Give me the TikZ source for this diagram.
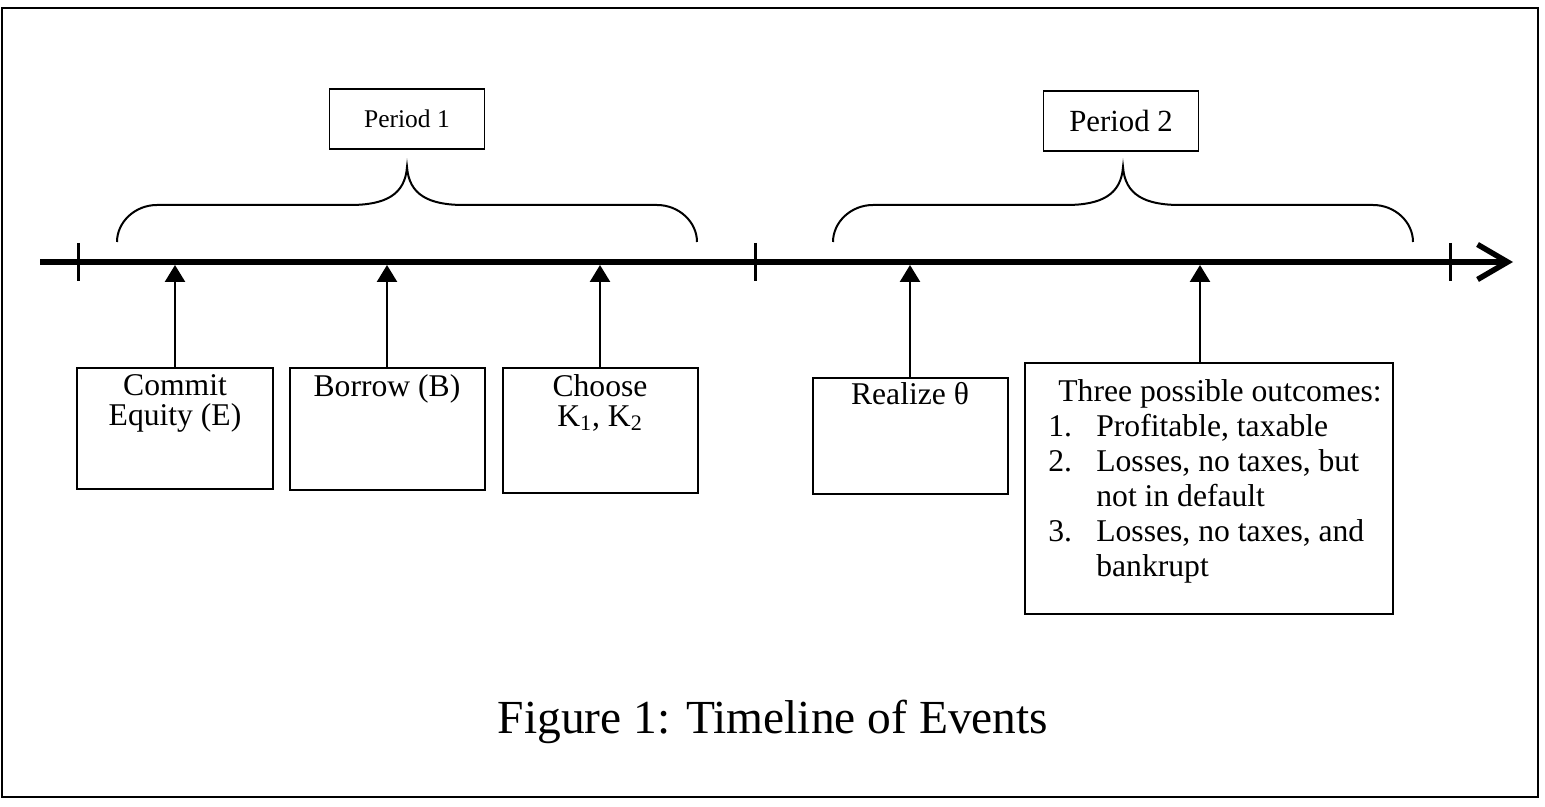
\documentclass[tikz,border=0pt]{standalone}
\usepackage{fontspec}
\setmainfont{Liberation Serif}
\usetikzlibrary{arrows.meta,calc}

\tikzset{
  eventbox/.style={draw, line width=0.4mm, minimum width=39mm, inner sep=0pt, anchor=north},
  eventtext/.style={anchor=north, align=center, inner sep=0pt, font=\fontsize{18}{17}\selectfont},
  periodbox/.style={draw, line width=0.3mm, minimum width=31mm, minimum height=12mm, inner sep=0pt},
  uparrow/.style={line width=0.5mm, -{Triangle[length=3.4mm,width=4mm]}},
  bracepath/.style={line width=0.4mm},
  ticmark/.style={line width=0.6mm},
}

\begin{document}
\begin{tikzpicture}[x=0.2mm, y=-0.2mm]
  % Outer frame
  \useasboundingbox (0,0) rectangle (1545,807);
  \draw[line width=0.4mm] (2,8) rectangle (1538,797);

  % Time axis
  \def\ty{262}
  \coordinate (axisL) at (40,\ty);
  \coordinate (axisR) at (1513,\ty);
  \coordinate (axisB) at (0,\ty+3); % lower edge of the axis
  \draw[line width=1.1mm, -{Straight Barb[length=6mm,width=7mm]}] (axisL) -- (axisR);

  % Period marks
  \foreach \x in {78,755,1450}
    \draw[ticmark] (\x,243) -- (\x,281);

  % ---- Period 1 ----
  \begin{scope}[shift={(117,0)}]
    \draw[bracepath] (0,242) .. controls (0,222) and (18,205) .. (40,205)
      -- (233,205) .. controls (268,205) and (288,195) .. (290,167)
      .. controls (292,195) and (312,205) .. (347,205)
      -- (540,205) .. controls (562,205) and (580,222) .. (580,242);
    \node[periodbox, font=\fontsize{14.5}{16}\selectfont] (per1) at (290,119) {Period 1};
  \end{scope}

  % ---- Period 2 ----
  \begin{scope}[shift={(833,0)}]
    \draw[bracepath] (0,242) .. controls (0,222) and (18,205) .. (40,205)
      -- (233,205) .. controls (268,205) and (288,195) .. (290,167)
      .. controls (292,195) and (312,205) .. (347,205)
      -- (540,205) .. controls (562,205) and (580,222) .. (580,242);
    \node[periodbox, font=\fontsize{17.5}{18}\selectfont] (per2) at (288,121) {Period 2};
  \end{scope}

  % Events
  \node[eventbox, minimum height=24.2mm] (commit) at (175,367) {};
  \node[eventtext] (committxt) at (175,374) {Commit\\Equity (E)};
  \node[eventbox, minimum height=24.4mm] (borrow) at (387,367) {};
  \node[eventtext] (borrowtxt) at (387,374) {Borrow (B)};
  \node[eventbox, minimum height=25mm] (choose) at (600,367) {};
  \node[eventtext] (choosetxt) at (600,374) {Choose\\K\textsubscript{1}, K\textsubscript{2}};
  \node[eventbox, minimum height=23.2mm] (realize) at (910,377) {};
  \node[eventtext] (realizetxt) at (910,382) {Realize θ};
  \node[eventbox, minimum width=73.6mm, minimum height=50.2mm] (outcomes) at (1209,362) {};
  \node[eventtext, anchor=north west, align=left, font=\fontsize{18}{19.9}\selectfont]
    (outcomestxt) at (1048,379) {\hspace*{2mm}Three possible outcomes:\\
    \makebox[9.6mm][l]{1.}Profitable, taxable\\
    \makebox[9.6mm][l]{2.}Losses, no taxes, but\\
    \hspace*{9.6mm}not in default\\
    \makebox[9.6mm][l]{3.}Losses, no taxes, and\\
    \hspace*{9.6mm}bankrupt};

  % Arrows up to the axis
  \foreach \n in {commit,borrow,choose,realize}
    \draw[uparrow] (\n.north) -- (\n.north |- axisB);
  \coordinate (outcomesin) at ($(outcomes.north)+(-9,0)$);
  \draw[uparrow] (outcomesin) -- (outcomesin |- axisB);

  % Caption
  \node[anchor=base, font=\fontsize{27}{32}\selectfont] (caption) at (773,733)
    {Figure 1: Timeline of Events};
\end{tikzpicture}
\end{document}
